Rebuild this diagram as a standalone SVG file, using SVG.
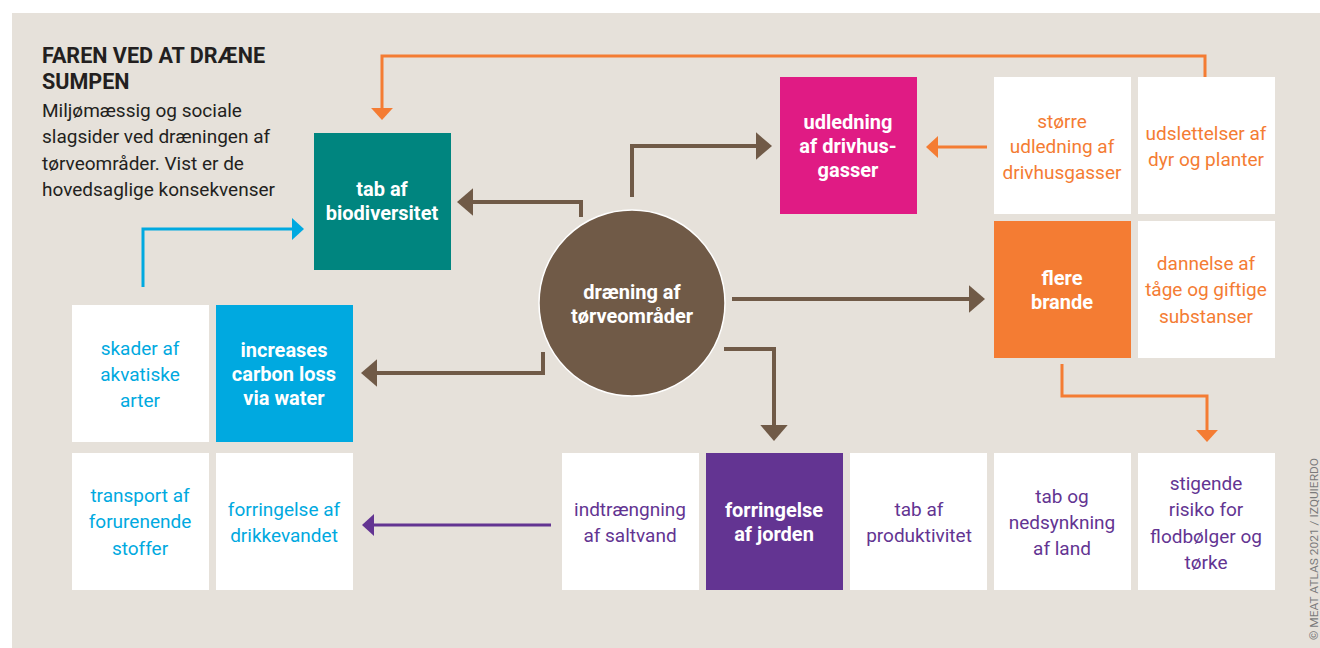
<svg xmlns="http://www.w3.org/2000/svg" width="1320" height="648" viewBox="0 0 1320 648">
<style>
.t{font-family:Roboto,"Liberation Sans",sans-serif;font-size:19px;text-anchor:middle}
.b{font-family:Roboto,"Liberation Sans",sans-serif;font-size:20px;font-weight:bold;text-anchor:middle;fill:#fff}
.w{fill:#fff}
.or{fill:#f47c33}.cy{fill:#00a9e0}.pu{fill:#633492}
.cb{fill:none;stroke:#705a47;stroke-width:4}
.co{fill:none;stroke:#f47c33;stroke-width:3}
.cc{fill:none;stroke:#00a9e0;stroke-width:3}
.cp{fill:none;stroke:#633492;stroke-width:3}
</style>
<defs>
<marker id="ab" markerUnits="userSpaceOnUse" markerWidth="16" markerHeight="28" refX="0" refY="12" orient="auto" viewBox="0 0 14 24"><path d="M0,0 L14,12 L0,24 z" fill="#705a47"/></marker>
<marker id="ao" markerUnits="userSpaceOnUse" markerWidth="12" markerHeight="22" refX="0" refY="10" orient="auto" viewBox="0 0 11 20"><path d="M0,0 L11,10 L0,20 z" fill="#f47c33"/></marker>
<marker id="ac" markerUnits="userSpaceOnUse" markerWidth="12" markerHeight="22" refX="0" refY="10" orient="auto" viewBox="0 0 11 20"><path d="M0,0 L11,10 L0,20 z" fill="#00a9e0"/></marker>
<marker id="ap" markerUnits="userSpaceOnUse" markerWidth="12" markerHeight="22" refX="0" refY="10" orient="auto" viewBox="0 0 11 20"><path d="M0,0 L11,10 L0,20 z" fill="#633492"/></marker>
</defs>
<rect x="0" y="0" width="1320" height="648" fill="#fff"/>
<rect x="12" y="13" width="1308" height="635" fill="#e6e1da"/>

<g id="title" font-family="Roboto,'Liberation Sans',sans-serif" fill="#231f20">
<text transform="translate(42 63) scale(0.98 1)" font-size="22" font-weight="bold">FAREN VED AT DRÆNE</text>
<text transform="translate(42 89) scale(0.98 1)" font-size="22" font-weight="bold">SUMPEN</text>
<text x="42" y="117" font-size="19">Miljømæssig og sociale</text>
<text x="42" y="143" font-size="19">slagsider ved dræningen af</text>
<text x="42" y="170" font-size="19">tørveområder. Vist er de</text>
<text x="42" y="196" font-size="19">hovedsaglige konsekvenser</text>
</g>

<g id="connectors">
<path class="cb" d="M581,217 V202 H473" marker-end="url(#ab)"/>
<path class="cb" d="M632,197 V146 H756" marker-end="url(#ab)"/>
<path class="cb" d="M732,299 H969" marker-end="url(#ab)"/>
<path class="cb" d="M724,349 H774 V425" marker-end="url(#ab)"/>
<path class="cb" d="M543,352 V373 H377" marker-end="url(#ab)"/>
<path class="co" d="M1205,77 V56 H382 V108" marker-end="url(#ao)"/>
<path class="co" d="M987,147 H938" marker-end="url(#ao)"/>
<path class="co" d="M1062,364 V396 H1207 V430" marker-end="url(#ao)"/>
<path class="cc" d="M143,287 V229 H292" marker-end="url(#ac)"/>
<path class="cp" d="M551,525 H374" marker-end="url(#ap)"/>
</g>

<g id="n-biodiversitet"><rect x="314" y="133" width="137" height="137" fill="#00857f"/>
<text class="b" x="382" y="196">tab af</text><text class="b" x="382" y="220">biodiversitet</text></g>

<g id="n-udledning"><rect x="780" y="77" width="137" height="137" fill="#e01b84"/>
<text class="b" x="848" y="129">udledning</text><text class="b" x="848" y="153">af drivhus-</text><text class="b" x="848" y="177">gasser</text></g>

<g id="n-storre"><rect x="994" y="77" width="137" height="137" class="w"/>
<text class="t or" x="1062" y="128">større</text><text class="t or" x="1062" y="153">udledning af</text><text class="t or" x="1062" y="179">drivhusgasser</text></g>

<g id="n-udslettelser"><rect x="1138" y="77" width="137" height="137" class="w"/>
<text class="t or" x="1206" y="140">udslettelser af</text><text class="t or" x="1206" y="166">dyr og planter</text></g>

<g id="n-draening"><circle cx="632" cy="303" r="93" fill="#705a47" stroke="#fff" stroke-width="1.5"/>
<text class="b" x="632" y="299">dræning af</text><text class="b" x="632" y="323">tørveområder</text></g>

<g id="n-brande"><rect x="994" y="221" width="137" height="137" fill="#f47c33"/>
<text class="b" x="1062" y="285">flere</text><text class="b" x="1062" y="309">brande</text></g>

<g id="n-dannelse"><rect x="1138" y="221" width="137" height="137" class="w"/>
<text class="t or" x="1206" y="270">dannelse af</text><text class="t or" x="1206" y="296">tåge og giftige</text><text class="t or" x="1206" y="323">substanser</text></g>

<g id="n-skader"><rect x="72" y="305" width="137" height="137" class="w"/>
<text class="t cy" x="140" y="355">skader af</text><text class="t cy" x="140" y="381">akvatiske</text><text class="t cy" x="140" y="407">arter</text></g>

<g id="n-carbon"><rect x="216" y="305" width="137" height="137" fill="#00a9e0"/>
<text class="b" x="284" y="357">increases</text><text class="b" x="284" y="381">carbon loss</text><text class="b" x="284" y="405">via water</text></g>

<g id="n-transport"><rect x="72" y="453" width="137" height="137" class="w"/>
<text class="t cy" x="140" y="502">transport af</text><text class="t cy" x="140" y="528">forurenende</text><text class="t cy" x="140" y="555">stoffer</text></g>

<g id="n-drikkevandet"><rect x="216" y="453" width="137" height="137" class="w"/>
<text class="t cy" x="284" y="516">forringelse af</text><text class="t cy" x="284" y="542">drikkevandet</text></g>

<g id="n-saltvand"><rect x="562" y="453" width="137" height="137" class="w"/>
<text class="t pu" x="630" y="516">indtrængning</text><text class="t pu" x="630" y="542">af saltvand</text></g>

<g id="n-jorden"><rect x="706" y="453" width="137" height="137" fill="#633492"/>
<text class="b" x="774" y="517">forringelse</text><text class="b" x="774" y="541">af jorden</text></g>

<g id="n-produktivitet"><rect x="850" y="453" width="137" height="137" class="w"/>
<text class="t pu" x="919" y="516">tab af</text><text class="t pu" x="919" y="542">produktivitet</text></g>

<g id="n-nedsynkning"><rect x="994" y="453" width="137" height="137" class="w"/>
<text class="t pu" x="1062" y="503">tab og</text><text class="t pu" x="1062" y="529">nedsynkning</text><text class="t pu" x="1062" y="555">af land</text></g>

<g id="n-risiko"><rect x="1138" y="453" width="137" height="137" class="w"/>
<text class="t pu" x="1206" y="490">stigende</text><text class="t pu" x="1206" y="516">risiko for</text><text class="t pu" x="1206" y="543">flodbølger og</text><text class="t pu" x="1206" y="569">tørke</text></g>

<text id="credit" transform="translate(1318 640) rotate(-90)" x="0" y="0" font-family="Roboto,'Liberation Sans',sans-serif" font-size="11.5" fill="#7a7a7a" textLength="182" lengthAdjust="spacingAndGlyphs">© MEAT ATLAS 2021 / IZQUIERDO</text>
</svg>
